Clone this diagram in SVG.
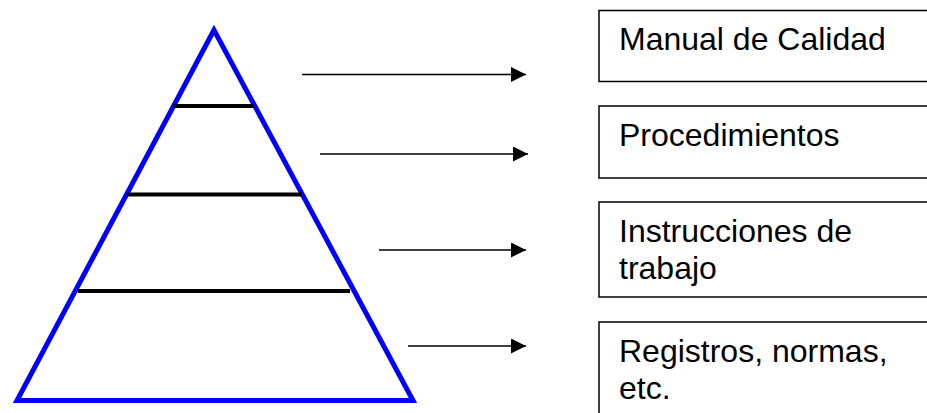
<svg xmlns="http://www.w3.org/2000/svg" width="927" height="413" viewBox="0 0 927 413">
<style>
.box{fill:#fff;stroke:#000;stroke-width:1.5}
.lbl{font-family:"Liberation Sans",Arial,sans-serif;font-size:32px;fill:#000}
.arr{stroke:#000;stroke-width:1.6;fill:none}
.bar{stroke:#000;stroke-width:4}
</style>
<defs>
<marker id="ah" markerUnits="userSpaceOnUse" markerWidth="16" markerHeight="16" refX="15" refY="7.5" orient="auto">
<path d="M0,0 L15,7.5 L0,15 Z" fill="#000"/>
</marker>
</defs>
<rect width="927" height="413" fill="#fff"/>
<g id="pyramid">
<polygon points="214,30 17,400.5 413,400.5" fill="none" stroke="#0000FF" stroke-width="5" stroke-linejoin="miter"/>
<line class="bar" x1="174" y1="106" x2="254" y2="106"/>
<line class="bar" x1="127" y1="194.5" x2="302" y2="194.5"/>
<line class="bar" x1="78" y1="291" x2="350" y2="291"/>
</g>
<g id="connectors">
<line class="arr" x1="302" y1="74.5" x2="526" y2="74.5" marker-end="url(#ah)"/>
<line class="arr" x1="320" y1="154" x2="528" y2="154" marker-end="url(#ah)"/>
<line class="arr" x1="379" y1="250" x2="526" y2="250" marker-end="url(#ah)"/>
<line class="arr" x1="408" y1="346" x2="526" y2="346" marker-end="url(#ah)"/>
</g>
<g id="box1">
<rect class="box" x="599" y="10.5" width="340" height="71"/>
<text class="lbl" x="619" y="50">Manual de Calidad</text>
</g>
<g id="box2">
<rect class="box" x="599" y="106" width="340" height="72"/>
<text class="lbl" x="619" y="145.5">Procedimientos</text>
</g>
<g id="box3">
<rect class="box" x="599" y="202" width="340" height="95"/>
<text class="lbl" x="619" y="241.5">Instrucciones de</text>
<text class="lbl" x="619" y="278.5">trabajo</text>
</g>
<g id="box4">
<rect class="box" x="599" y="322" width="340" height="120"/>
<text class="lbl" x="619" y="361.5">Registros, normas,</text>
<text class="lbl" x="619" y="398.5">etc.</text>
</g>
</svg>
